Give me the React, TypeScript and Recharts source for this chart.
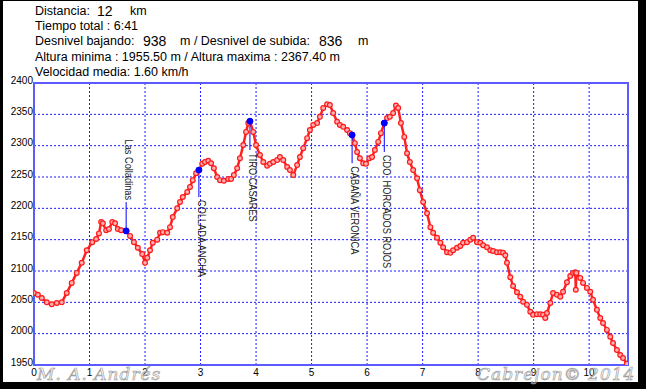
import React from "react"
import {
	CartesianGrid,
	Line,
	LineChart,
	ReferenceArea,
	ReferenceDot,
	ReferenceLine,
	XAxis,
	YAxis,
} from "recharts"

// perfil de la ruta: distancia (km) y altura (m)
const distanceKm = [
	0, 0.07, 0.14, 0.23, 0.32, 0.41, 0.5, 0.59, 0.68, 0.77,
	0.86, 0.95, 1.05, 1.12, 1.17, 1.21, 1.24, 1.3, 1.35, 1.41,
	1.46, 1.51, 1.57, 1.66, 1.73, 1.8, 1.87, 1.95, 2.0, 2.04,
	2.09, 2.14, 2.22, 2.27, 2.32, 2.4, 2.45, 2.5, 2.58, 2.63,
	2.68, 2.76, 2.81, 2.86, 2.92, 2.97, 3.03, 3.08, 3.14, 3.19,
	3.24, 3.3, 3.35, 3.42, 3.5, 3.55, 3.6, 3.66, 3.71, 3.77,
	3.82, 3.86, 3.89, 3.95, 4.0, 4.07, 4.13, 4.2, 4.25, 4.31,
	4.38, 4.43, 4.49, 4.56, 4.61, 4.67, 4.74, 4.79, 4.85, 4.92,
	4.97, 5.03, 5.1, 5.15, 5.21, 5.28, 5.33, 5.39, 5.46, 5.51,
	5.57, 5.64, 5.69, 5.73, 5.78, 5.82, 5.87, 5.93, 5.98, 6.04,
	6.09, 6.14, 6.2, 6.25, 6.31, 6.36, 6.41, 6.47, 6.52, 6.56,
	6.61, 6.67, 6.72, 6.77, 6.83, 6.9, 6.95, 7.01, 7.08, 7.14,
	7.19, 7.26, 7.32, 7.37, 7.44, 7.5, 7.55, 7.62, 7.68, 7.73,
	7.8, 7.86, 7.91, 7.98, 8.04, 8.09, 8.16, 8.22, 8.27, 8.34,
	8.4, 8.45, 8.49, 8.52, 8.58, 8.63, 8.7, 8.76, 8.81, 8.88,
	8.94, 8.99, 9.06, 9.12, 9.17, 9.21, 9.24, 9.3, 9.35, 9.42,
	9.48, 9.53, 9.6, 9.66, 9.71, 9.75, 9.76, 9.77, 9.84, 9.89,
	9.96, 10.02, 10.07, 10.14, 10.2, 10.25, 10.32, 10.38, 10.43, 10.5,
	10.56, 10.61, 10.68,
]

const elevation = [
	2065, 2062, 2057, 2050, 2047, 2049, 2050, 2065, 2081, 2097,
	2113, 2133, 2146, 2151, 2160, 2178, 2176, 2165, 2167, 2178,
	2176, 2167, 2165, 2164, 2156, 2146, 2137, 2127, 2113, 2121,
	2133, 2145, 2150, 2161, 2162, 2161, 2170, 2186, 2200, 2210,
	2218, 2226, 2234, 2245, 2256, 2261, 2271, 2274, 2276, 2272,
	2264, 2250, 2245, 2244, 2247, 2247, 2253, 2264, 2280, 2301,
	2322, 2336, 2339, 2322, 2301, 2285, 2274, 2268, 2271, 2274,
	2277, 2282, 2277, 2266, 2261, 2253, 2269, 2282, 2296, 2312,
	2325, 2333, 2336, 2346, 2360, 2366, 2365, 2352, 2338, 2333,
	2330, 2325, 2320, 2317, 2304, 2290, 2280, 2272, 2271, 2280,
	2282, 2293, 2306, 2320, 2336, 2344, 2346, 2352, 2364, 2360,
	2336, 2314, 2288, 2274, 2261, 2248, 2229, 2210, 2192, 2170,
	2161, 2153, 2145, 2138, 2130, 2129, 2133, 2137, 2140, 2145,
	2146, 2150, 2153, 2146, 2145, 2141, 2138, 2133, 2132, 2130,
	2130, 2129, 2125, 2113, 2090, 2076, 2066, 2059, 2051, 2046,
	2035, 2030, 2031, 2031, 2030, 2025, 2033, 2049, 2065, 2062,
	2059, 2067, 2082, 2092, 2097, 2098, 2070, 2097, 2089, 2081,
	2073, 2067, 2054, 2038, 2025, 2017, 2006, 1995, 1985, 1974,
	1966, 1961, 1952,
]

const xTicks = [0, 1, 2, 3, 4, 5, 6, 7, 8, 9, 10]
const yTicks = [1950, 2000, 2050, 2100, 2150, 2200, 2250, 2300, 2350, 2400]

// puntos de paso
const waypointNames = ["Las Colladinas", "COLLADA ANCHA", "TIRO CASARES", "CABAÑA VERONICA", "CDO. HORCADOS ROJOS"]
const waypointKm = [1.66, 2.97, 3.89, 5.73, 6.31]
const waypointElev = [2164, 2261, 2339, 2317, 2336]
const waypointStemEnd = [2210, 2218, 2293, 2272, 2290]

const chartData = distanceKm.map((km, i) => ({ km, elev: elevation[i] }))

const font = "'Liberation Sans', Arial, sans-serif"

function WaypointLabel(props: any) {
	const { cx, cy, name, above } = props
	if (cx == null || cy == null) return null
	const y = above ? cy - 2 : cy + 3
	const x = cx - 1
	// texto vertical, algo estrecho como en el original
	return (
		<g transform={`translate(${x} ${y}) rotate(90) scale(0.84 1)`}>
			<text x={0} y={0} textAnchor={above ? "end" : "start"} fontSize={11} fontFamily={font} fill="#222">
				{name}
			</text>
		</g>
	)
}

const headerLine: React.CSSProperties = {
	position: "absolute",
	left: 35,
	fontFamily: font,
	fontSize: 12.5,
	color: "#000",
	whiteSpace: "pre",
	lineHeight: "15px",
}

export default function App() {
	return (
		<div style={{ position: "absolute", left: 0, top: 0, width: 646, height: 389, background: "#000" }}>
			<div style={{ position: "absolute", left: 3, top: 1, width: 635, height: 381, background: "#fff" }} />

			<div style={{ ...headerLine, top: 4 }}>
				Distancia:<span style={{ position: "absolute", left: 62, fontSize: 14 }}>12</span>
				<span style={{ position: "absolute", left: 95 }}>km</span>
			</div>
			<div style={{ ...headerLine, top: 19 }}>Tiempo total : 6:41</div>
			<div style={{ ...headerLine, top: 34 }}>
				Desnivel bajando:<span style={{ position: "absolute", left: 108, fontSize: 14 }}>938</span>
				<span style={{ position: "absolute", left: 145 }}>m / Desnivel de subida:</span>
				<span style={{ position: "absolute", left: 284, fontSize: 14 }}>836</span>
				<span style={{ position: "absolute", left: 323 }}>m</span>
			</div>
			<div style={{ ...headerLine, top: 50 }}>Altura minima : 1955.50 m / Altura maxima : 2367.40 m</div>
			<div style={{ ...headerLine, top: 65 }}>Velocidad media: 1.60 km/h</div>

			<div style={{ position: "absolute", left: 0, top: 0 }}>
				<LineChart width={646} height={389} data={chartData} margin={{ top: 83, right: 18, left: 0, bottom: 0 }}>
					<CartesianGrid stroke="#1a1aff" strokeDasharray="2 2" strokeWidth={1} />
					<XAxis
						type="number"
						dataKey="km"
						domain={[0, 10.7]}
						ticks={xTicks}
						interval={0}
						height={24}
						axisLine={false}
						tickLine={false}
						tickSize={2}
						tickMargin={2}
						tick={{ fontSize: 10, fill: "#000", fontFamily: font }}
						allowDataOverflow
					/>
					<YAxis
						type="number"
						domain={[1950, 2400]}
						ticks={yTicks}
						interval={0}
						width={34}
						axisLine={false}
						tickLine={false}
						tickSize={0}
						tickMargin={1}
						tick={{ fontSize: 10, fill: "#000", fontFamily: font, dy: -3 }}
						allowDataOverflow
					/>
					<ReferenceArea x1={0} x2={10.7} y1={1950} y2={2400} fill="none" stroke="#5b5bff" strokeWidth={2} fillOpacity={0} />
					<Line
						dataKey="elev"
						type="linear"
						stroke="#ff2020"
						strokeWidth={2.5}
						dot={{ r: 2.4, stroke: "#ff1a1a", strokeWidth: 1.2, fill: "#ffb0b0" }}
						isAnimationActive={false}
					/>
					{waypointNames.map((name, i) => (
						<ReferenceLine
							key={`s-${name}`}
							segment={[
								{ x: waypointKm[i], y: waypointElev[i] },
								{ x: waypointKm[i], y: waypointStemEnd[i] },
							]}
							stroke="#0000ff"
							strokeWidth={1}
						/>
					))}
					{waypointNames.map((name, i) => (
						<ReferenceDot
							key={`p-${name}`}
							x={waypointKm[i]}
							y={waypointElev[i]}
							r={3}
							fill="#0000ff"
							stroke="#0000ff"
						/>
					))}
					{waypointNames.map((name, i) => (
						<ReferenceDot
							key={`l-${name}`}
							x={waypointKm[i]}
							y={waypointStemEnd[i]}
							r={0}
							shape={(p: any) => (
								<WaypointLabel {...p} name={name} above={waypointStemEnd[i] > waypointElev[i]} />
							)}
						/>
					))}
				</LineChart>
			</div>

			<svg width={646} height={389} style={{ position: "absolute", left: 0, top: 0, pointerEvents: "none" }}>
				<g fontFamily="'DejaVu Serif', serif" fontStyle="italic" fontSize={17} fill="#fff" fillOpacity={0.2} stroke="#a0a0a0" strokeWidth={0.7}>
					<text x={37} y={380} letterSpacing={1}>M. A. Andrés</text>
					<text x={477} y={380} letterSpacing={1}>Cabrejon© 2014</text>
				</g>
			</svg>
		</div>
	)
}
